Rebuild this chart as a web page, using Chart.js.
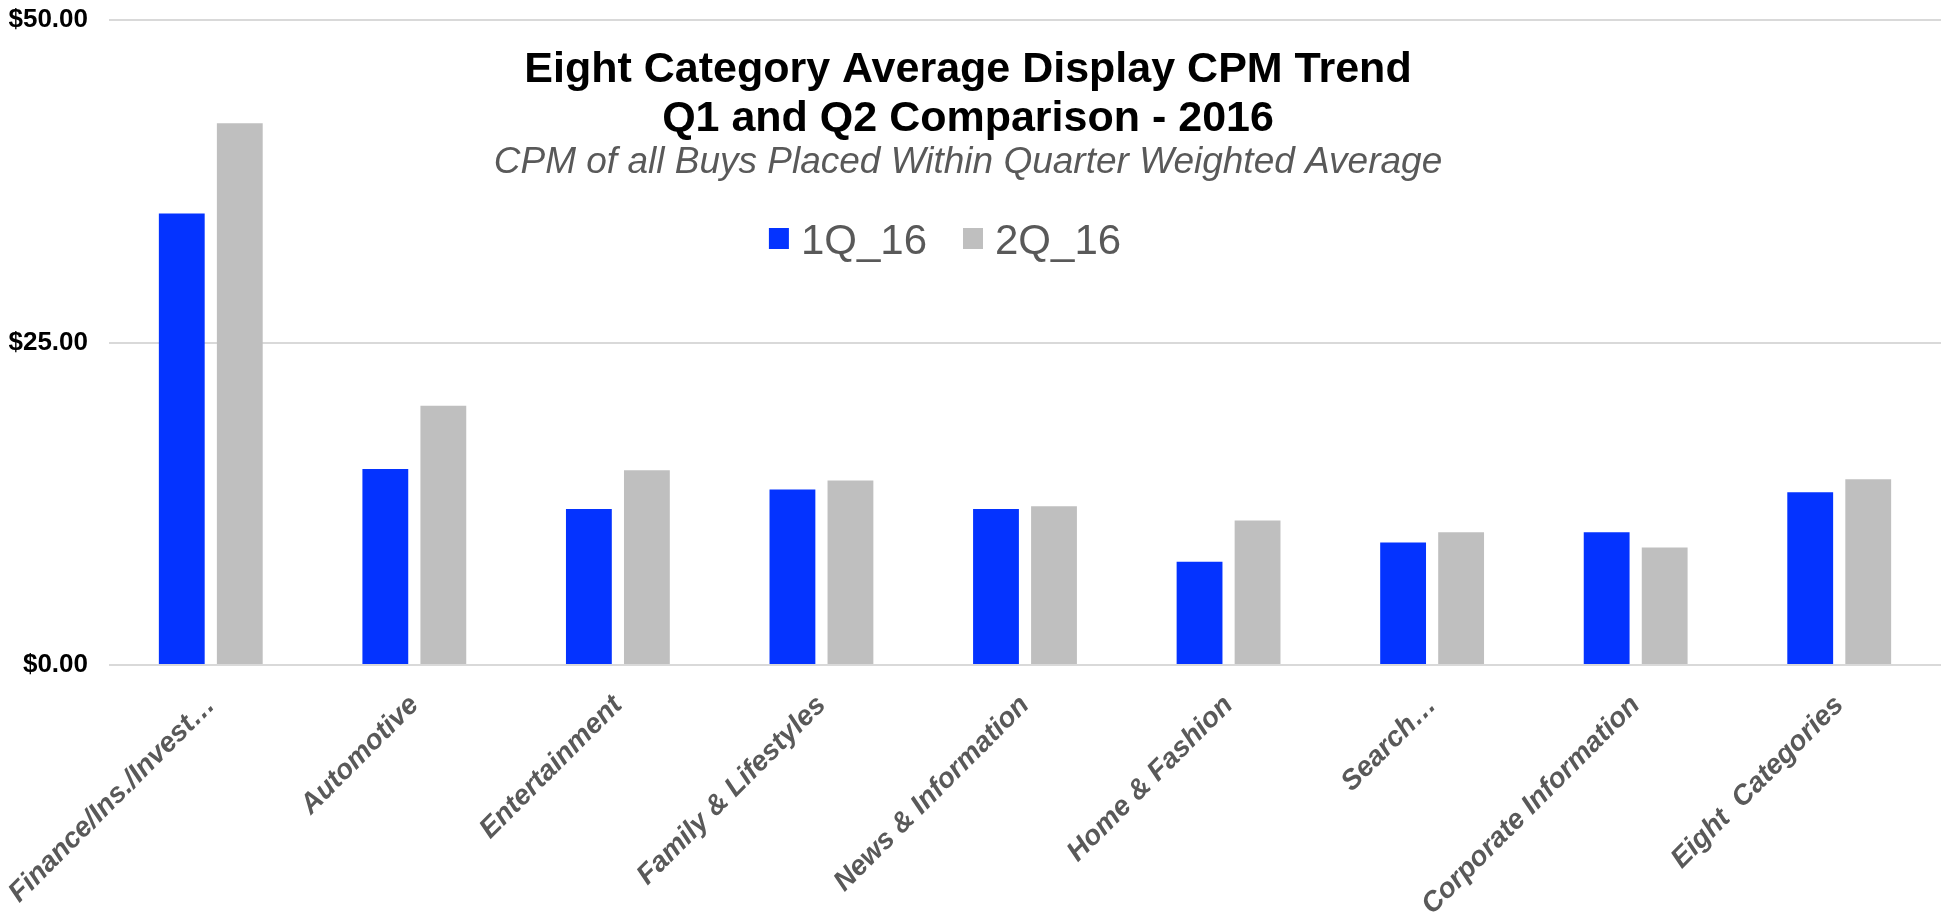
<!DOCTYPE html>
<html>
<head>
<meta charset="utf-8">
<script src="https://cdn.jsdelivr.net/npm/chart.js@4.4.1/dist/chart.umd.min.js"></script>
<style>
  html, body { margin: 0; padding: 0; background: #fff; }
  #wrap { width: 1941px; height: 916px; }
</style>
</head>
<body>
<div id="wrap"><canvas id="grafico" width="1941" height="916"></canvas></div>
<script>
// datos
const categorias = ['Finance/Ins./Invest…', 'Automotive', 'Entertainment', 'Family & Lifestyles',
  'News & Information', 'Home & Fashion', 'Search…', 'Corporate Information', 'Eight  Categories'];
const q1 = [35.0, 15.2, 12.1, 13.6, 12.1, 8.0, 9.5, 10.3, 13.4];
const q2 = [42.0, 20.1, 15.1, 14.3, 12.3, 11.2, 10.3, 9.1, 14.4];
const series = ['1Q_16', '2Q_16'];
const colores = ['#0433ff', '#bfbfbf'];
const yTicks = [0, 25, 50];

const titulo = ['Eight Category Average Display CPM Trend', 'Q1 and Q2 Comparison - 2016'];
const subtitulo = 'CPM of all Buys Placed Within Quarter Weighted Average';
const FONT = '"Liberation Sans", Arial, sans-serif';

// titulo, subtitulo y leyenda dibujados dentro del area del grafico
const textos = {
  id: 'textos',
  afterDraw(chart) {
    const ctx = chart.ctx;
    ctx.save();
    ctx.textAlign = 'center';
    ctx.textBaseline = 'alphabetic';
    ctx.fillStyle = '#000';
    ctx.font = 'bold 43px ' + FONT;
    ctx.fillText(titulo[0], 968, 82);
    ctx.fillText(titulo[1], 968, 131);
    ctx.fillStyle = '#595959';
    ctx.font = 'italic 37px ' + FONT;
    ctx.fillText(subtitulo, 968, 173);

    // leyenda
    ctx.font = '42px ' + FONT;
    const caja = 20, hueco = 12, sep = 36;
    const anchos = series.map(s => ctx.measureText(s).width);
    let total = anchos.reduce((a, w) => a + caja + hueco + w, 0) + sep * (series.length - 1);
    let x = 945 - total / 2;
    ctx.textAlign = 'left';
    series.forEach((s, i) => {
      ctx.fillStyle = colores[i];
      ctx.fillRect(x, 228, caja, 21);
      ctx.fillStyle = '#595959';
      ctx.fillText(s, x + caja + hueco, 254);
      x += caja + hueco + anchos[i] + sep;
    });
    ctx.restore();
  }
};

const ctx = document.getElementById('grafico').getContext('2d');
new Chart(ctx, {
  type: 'bar',
  data: {
    labels: categorias,
    datasets: [
      { label: series[0], data: q1, backgroundColor: colores[0] },
      { label: series[1], data: q2, backgroundColor: colores[1] }
    ]
  },
  options: {
    responsive: false,
    animation: false,
    categoryPercentage: 0.57,
    barPercentage: 0.79,
    layout: { padding: { left: 9, right: 0, top: 20, bottom: 0 } },
    plugins: {
      legend: { display: false },
      tooltip: { enabled: false }
    },
    scales: {
      x: {
        grid: { display: false },
        border: { display: false },
        ticks: {
          autoSkip: false,
          minRotation: 45,
          maxRotation: 45,
          padding: 16,
          color: '#595959',
          font: { family: FONT, size: 28, weight: 'bold', style: 'italic' }
        },
        afterFit(s) { s.height = 251; s.paddingLeft = 0; s.paddingRight = 0; }
      },
      y: {
        min: 0,
        max: 50,
        grid: { color: '#d9d9d9', lineWidth: 2, drawTicks: false },
        border: { display: false },
        afterBuildTicks(s) { s.ticks = yTicks.map(v => ({ value: v })); },
        ticks: {
          padding: 21,
          color: '#000',
          font: { family: FONT, size: 26, weight: 'bold' },
          callback: v => '$' + Number(v).toFixed(2)
        },
        afterFit(s) { s.width = 100; s.paddingTop = 0; s.paddingBottom = 0; }
      }
    }
  },
  plugins: [textos]
});
</script>
</body>
</html>
